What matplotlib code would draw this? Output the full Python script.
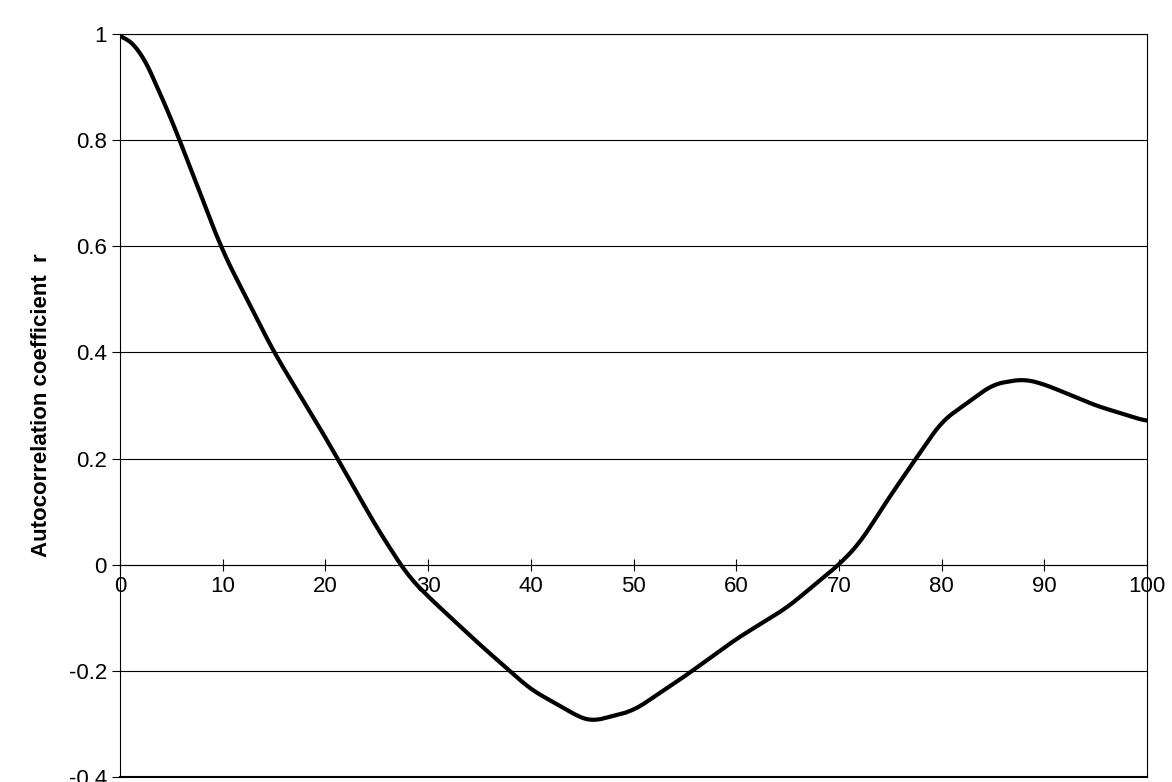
import numpy as np
import matplotlib.pyplot as plt

plt.rcParams['font.family'] = ['Liberation Sans', 'DejaVu Sans']

lag = [0, 2, 5, 10, 15, 20, 25, 28, 30, 35, 40, 45, 46, 50, 55, 60, 65, 70, 72, 75, 80, 85, 88, 90, 95, 100]
r = [1.0, 0.97, 0.84, 0.59, 0.40, 0.24, 0.07, -0.02, -0.06, -0.15, -0.235, -0.29, -0.295, -0.275, -0.21, -0.14,
     -0.08, 0.0, 0.04, 0.13, 0.27, 0.34, 0.35, 0.34, 0.30, 0.27]

fig = plt.figure(figsize=(11.72, 7.82), dpi=100)
ax = fig.add_axes([0.1024, 0.0064, 0.8763, 0.9501])

# smooth the read points a little
xs = np.linspace(0, 100, 400)
yl = np.interp(xs, np.array(lag, float), np.array(r, float))
k = 9
ysm = np.convolve(np.pad(yl, k // 2, mode='edge'), np.ones(k) / k, mode='valid')
ysm[0] = 1.0
ax.plot(xs, ysm, color='black', lw=3)

ax.set_xlim(0, 100)
ax.set_ylim(-0.4, 1)
ax.set_yticks(np.arange(-0.4, 1.01, 0.2))
ax.set_yticklabels(['-0.4', '-0.2', '0', '0.2', '0.4', '0.6', '0.8', '1'])
ax.set_xticks(range(0, 101, 10))
ax.yaxis.grid(True, color='black', lw=0.8)
ax.set_axisbelow(True)
ax.spines['bottom'].set_position(('data', 0))
ax.axhline(-0.4, color='black', lw=1.5, clip_on=False)
ax.tick_params(axis='x', direction='inout', length=8, labelsize=16, pad=4)
ax.tick_params(axis='y', direction='out', length=6, labelsize=16)
ax.set_ylabel('Autocorrelation coefficient  r', fontsize=16, fontweight='bold', labelpad=12)

fig.savefig('out.png', dpi=100)
